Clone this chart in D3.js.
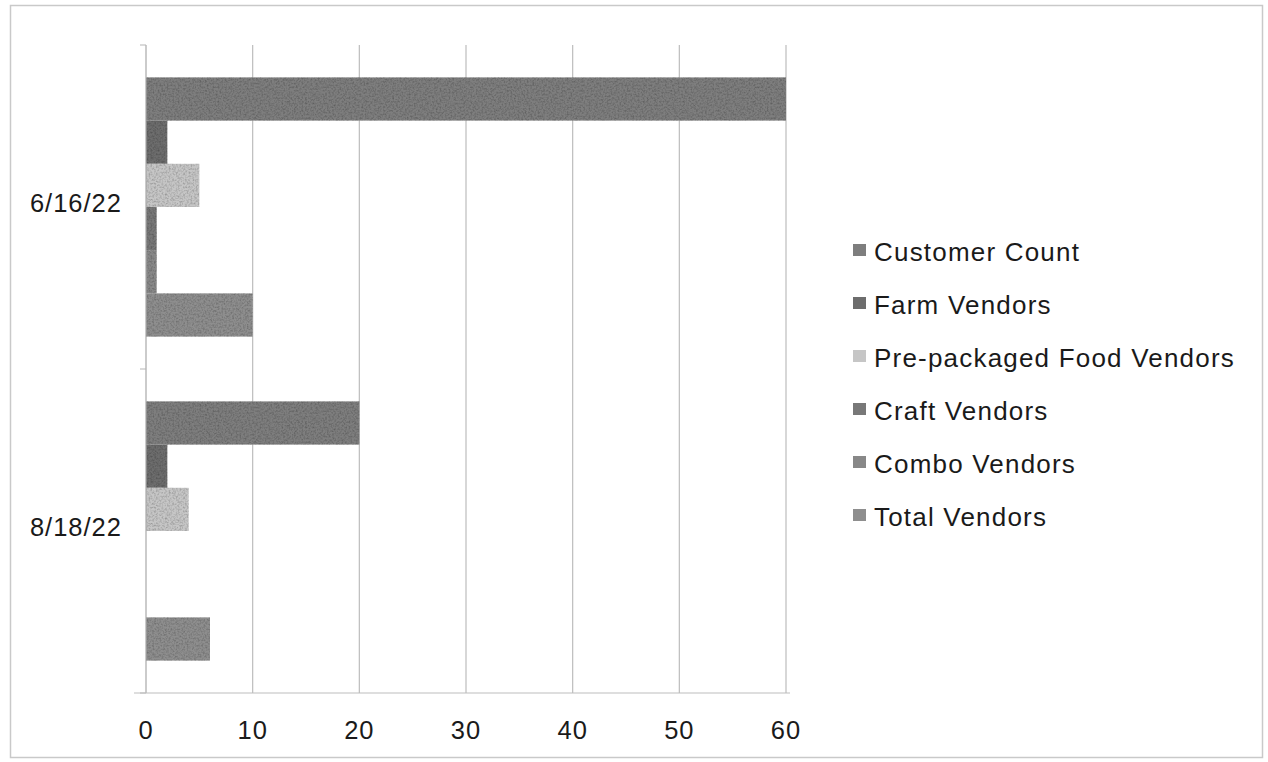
<!DOCTYPE html>
<html>
<head>
<meta charset="utf-8">
<script src="https://cdn.jsdelivr.net/npm/d3@7"></script>
<style>
  html, body { margin: 0; padding: 0; background: #fff; }
  svg { display: block; }
  text { font-family: "Liberation Sans", Arial, sans-serif; fill: #1a1a1a; }
</style>
</head>
<body>
<svg id="chart" width="1268" height="762"></svg>
<script>
// Market visit counts per date
const dates = ["6/16/22", "8/18/22"];
const seriesNames = ["Customer Count", "Farm Vendors", "Pre-packaged Food Vendors",
                     "Craft Vendors", "Combo Vendors", "Total Vendors"];
const customerCount = [60, 20];
const farmVendors = [2, 2];
const prepackagedVendors = [5, 4];
const craftVendors = [1, 0];
const comboVendors = [1, 0];
const totalVendors = [10, 6];
const xTicks = [0, 10, 20, 30, 40, 50, 60];
const seriesColors = ["#7e7e7e", "#6d6d6d", "#c6c6c6", "#787878", "#888888", "#8e8e8e"];

const seriesValues = [customerCount, farmVendors, prepackagedVendors,
                      craftVendors, comboVendors, totalVendors];

const svg = d3.select("#chart");
const plot = { left: 146, right: 786, top: 45, bottom: 693 };

// Grainy texture for the bars
const defs = svg.append("defs");
const grain = defs.append("filter").attr("id", "grain")
  .attr("x", 0).attr("y", 0).attr("width", 1).attr("height", 1);
grain.append("feTurbulence").attr("type", "fractalNoise")
  .attr("baseFrequency", 0.55).attr("numOctaves", 2).attr("seed", 7).attr("result", "noise");
grain.append("feColorMatrix").attr("in", "noise").attr("type", "matrix")
  .attr("values", "0 0 0 0 0  0 0 0 0 0  0 0 0 0 0  0 0 0 0.9 -0.35").attr("result", "dots");
grain.append("feComposite").attr("in", "dots").attr("in2", "SourceGraphic")
  .attr("operator", "in").attr("result", "dotsIn");
grain.append("feMerge").selectAll("feMergeNode")
  .data(["SourceGraphic", "dotsIn"]).join("feMergeNode").attr("in", d => d);

// Outer frame
svg.append("rect")
  .attr("x", 10.5).attr("y", 5.5).attr("width", 1252).attr("height", 752)
  .attr("fill", "none").attr("stroke", "#c9c9c9").attr("stroke-width", 1.5);

const x = d3.scaleLinear().domain([0, 60]).range([plot.left, plot.right]);
const y0 = d3.scaleBand().domain(dates).range([plot.top, plot.bottom]).paddingInner(0).paddingOuter(0);
const y1 = d3.scaleBand().domain(seriesNames).range([0, y0.bandwidth()])
  .paddingInner(0).paddingOuter(0.75);

// Vertical grid lines
svg.append("g").selectAll("line")
  .data(xTicks.filter(t => t > 0)).join("line")
  .attr("x1", d => x(d)).attr("x2", d => x(d))
  .attr("y1", plot.top).attr("y2", plot.bottom)
  .attr("stroke", "#bdbdbd").attr("stroke-width", 1.2);

// Bars
const groups = svg.append("g").selectAll("g")
  .data(dates).join("g")
  .attr("transform", d => `translate(0,${y0(d)})`);

groups.selectAll("rect")
  .data((d, i) => seriesNames.map((s, k) => ({ series: s, k, value: seriesValues[k][i] })))
  .join("rect")
  .filter(d => d.value > 0)
  .attr("x", x(0))
  .attr("y", d => y1(d.series))
  .attr("width", d => x(d.value) - x(0))
  .attr("height", y1.bandwidth())
  .attr("fill", d => seriesColors[d.k])
  .attr("filter", "url(#grain)");

// Category axis (left)
const yAxis = svg.append("g").attr("transform", `translate(${plot.left},0)`);
yAxis.append("line")
  .attr("x1", 0).attr("x2", 0).attr("y1", plot.top).attr("y2", plot.bottom)
  .attr("stroke", "#a8a8a8").attr("stroke-width", 1.2);
yAxis.selectAll("line.tick")
  .data([plot.top, y0("8/18/22"), plot.bottom]).join("line").attr("class", "tick")
  .attr("x1", -6).attr("x2", 0).attr("y1", d => d).attr("y2", d => d)
  .attr("stroke", "#b5b5b5");
yAxis.selectAll("text")
  .data(dates).join("text")
  .attr("x", -24).attr("y", d => y0(d) + y0.bandwidth() / 2 - 4)
  .attr("text-anchor", "end").attr("dominant-baseline", "central")
  .attr("font-size", 25.5).attr("letter-spacing", 1)
  .text(d => d);

// Value axis (bottom)
const xAxis = svg.append("g").attr("transform", `translate(0,${plot.bottom})`);
xAxis.append("line")
  .attr("x1", plot.left - 12).attr("x2", plot.right + 4)
  .attr("stroke", "#bdbdbd").attr("stroke-width", 1.2);
xAxis.selectAll("text")
  .data(xTicks).join("text")
  .attr("x", d => x(d)).attr("y", 37)
  .attr("text-anchor", "middle").attr("dominant-baseline", "central")
  .attr("font-size", 25.5).attr("letter-spacing", 1)
  .text(d => d);

// Legend
const legend = svg.append("g").attr("transform", "translate(853,252)");
const rows = legend.selectAll("g")
  .data(seriesNames).join("g")
  .attr("transform", (d, i) => `translate(0,${i * 53})`);
rows.append("rect")
  .attr("x", 0).attr("y", -8).attr("width", 13).attr("height", 12)
  .attr("fill", (d, i) => seriesColors[i]);
rows.append("text")
  .attr("x", 21).attr("y", 0)
  .attr("dominant-baseline", "central")
  .attr("font-size", 26).attr("letter-spacing", 1.2)
  .text(d => d);
</script>
</body>
</html>
